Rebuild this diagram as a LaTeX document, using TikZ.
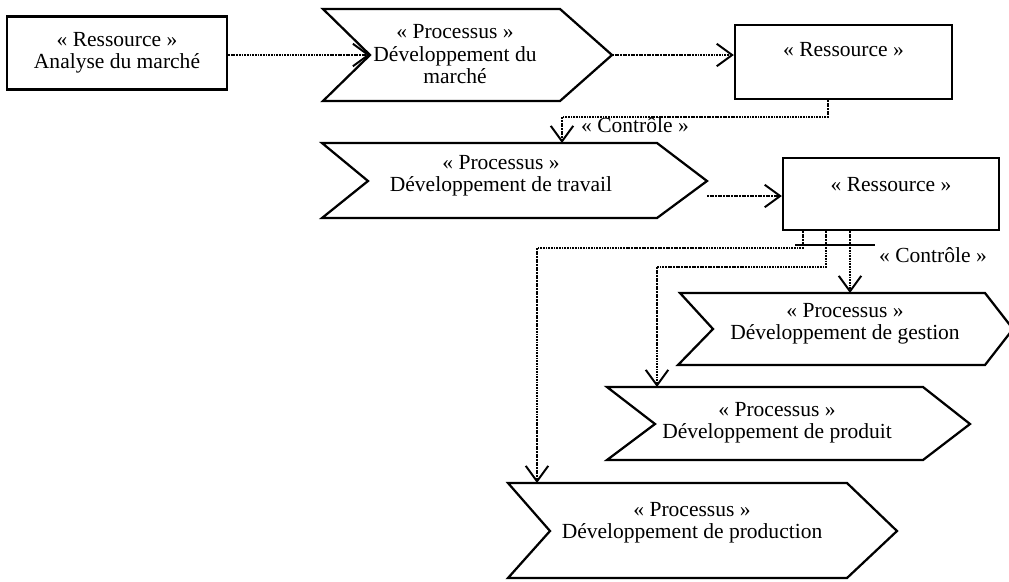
\documentclass[tikz,border=0pt]{standalone}
\usepackage{fontspec}
\setmainfont{Liberation Serif}
\usetikzlibrary{arrows.meta}
\begin{document}
\begin{tikzpicture}[x=0.025cm,y=-0.025cm,
  shp/.style={draw, line width=1.6pt, line join=miter},
  conn/.style={line width=1.5pt, dash pattern=on 1.3pt off 0.6pt, -{Straight Barb[length=11pt,width=16pt,line width=1.4pt]}},
  connplain/.style={line width=1.5pt, dash pattern=on 1.3pt off 0.6pt},
  lbl/.style={font=\fontsize{15.3}{16}\selectfont, align=center, inner sep=0pt},
  resbox/.style={draw, line width=1.6pt, inner sep=0pt}]
\fill[white] (0,0) rectangle (1009,581);
\useasboundingbox (0,0) rectangle (1009,581);

% Resource boxes
\node[resbox, minimum width=5.5cm, minimum height=1.825cm] (A) at (117,53) {};
\node[lbl] (Atxt) at (117,53) {« Ressource »\\Analyse du marché};
\node[resbox, minimum width=5.425cm, minimum height=1.85cm] (R2) at (843.5,62) {};
\node[lbl] (R2txt) at (843.5,50) {« Ressource »};
\node[resbox, minimum width=5.4cm, minimum height=1.8cm] (R3) at (891,194) {};
\node[lbl] (R3txt) at (891,185) {« Ressource »};

% Chevron P1
\coordinate (p1n) at (370,55);
\coordinate (p1t) at (612,55);
\draw[shp] (323,9) -- (560,9) -- (p1t) -- (560,101) -- (323,101) -- (p1n) -- cycle;
\node[lbl] (P1) at (455,54.5) {« Processus »\\Développement du\\marché};

% Chevron P2
\coordinate (p2n) at (368,181);
\coordinate (p2t) at (707,181);
\coordinate (p2top) at (562,143);
\coordinate (p2o) at (707,196);
\draw[shp] (322,143) -- (657,143) -- (p2t) -- (657,218) -- (322,218) -- (p2n) -- cycle;
\node[lbl] (P2) at (501,175.5) {« Processus »\\Développement de travail};

% Chevron P3
\coordinate (p3top) at (850,293);
\draw[shp] (680,293) -- (985,293) -- (1013,329) -- (985,365) -- (678,365) -- (713,329) -- cycle;
\node[lbl] (P3) at (845,324) {« Processus »\\Développement de gestion};

% Chevron P4
\coordinate (p4top) at (657,387);
\draw[shp] (607,387) -- (923,387) -- (970,424) -- (923,460) -- (607,460) -- (655,424) -- cycle;
\node[lbl] (P4) at (777,422.5) {« Processus »\\Développement de produit};

% Chevron P5
\coordinate (p5top) at (537,483);
\draw[shp] (508,483) -- (847,483) -- (897,531) -- (847,578) -- (508,578) -- (550,531) -- cycle;
\node[lbl] (P5) at (692,522.5) {« Processus »\\Développement de production};

% Connectors
\draw[conn] (A.east |- p1n) -- (p1n);
\draw[conn] (p1t) -- (p1t -| R2.west);
\draw[conn] (R2.south -| 828,0) -- (828,117) -- (562,117) -- (p2top);
\node[lbl] (C1) at (635,125) {« Contrôle »};
\draw[conn] (p2o) -- (p2o -| R3.west);

\draw[connplain] (R3.south -| 803,0) -- (803,248) -- (537,248);
\draw[conn] (537,248) -- (p5top);
\draw[connplain] (R3.south -| 826,0) -- (826,267) -- (657,267);
\draw[conn] (657,267) -- (p4top);
\draw[conn] (R3.south -| 850,0) -- (p3top);
\draw[line width=1.4pt] (795,245) coordinate (cbarL) -- (875,245) coordinate (cbarR);
\node[lbl] (C2) at (933,255) {« Contrôle »};
\end{tikzpicture}
\end{document}
